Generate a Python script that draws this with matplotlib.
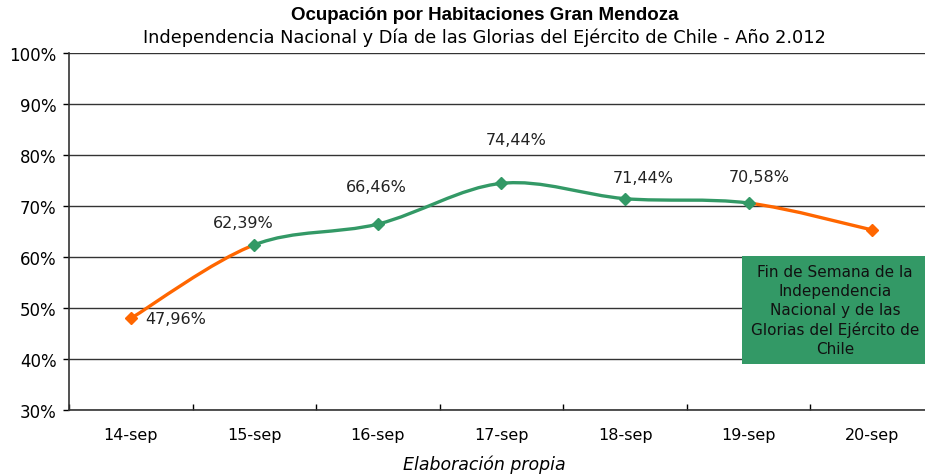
import matplotlib.pyplot as plt
from matplotlib.path import Path
from matplotlib.patches import PathPatch, Rectangle

# ── Data ───────────────────────────────────────────────────────────────────────
dias = ["14-sep", "15-sep", "16-sep", "17-sep", "18-sep", "19-sep", "20-sep"]
ocupacion = [47.96, 62.39, 66.46, 74.44, 71.44, 70.58, 65.3]
etiquetas = ["47,96%", "62,39%", "66,46%", "74,44%", "71,44%", "70,58%", None]
# pixel offsets of each data label from its point
offsets = [(14, 0), (-11, 22), (-2, 38), (15, 44), (18, 21), (11, 27), (0, 0)]

naranja = "#FF6600"
verde = "#339966"

fig = plt.figure(figsize=(9.25, 4.77), dpi=100)
ax = fig.add_axes([69 / 925, 1 - 411 / 477, 865 / 925, (411 - 54) / 477])

x = list(range(len(dias)))

# ── Smoothed line (Excel-style bezier) ─────────────────────────────────────────
def seg_path(i0, i1):
    pts = list(zip(x, ocupacion))
    verts = [pts[i0]]
    codes = [Path.MOVETO]
    for i in range(i0, i1):
        p0 = pts[max(i - 1, 0)]
        p1 = pts[i]
        p2 = pts[i + 1]
        p3 = pts[min(i + 2, len(pts) - 1)]
        c1 = (p1[0] + (p2[0] - p0[0]) / 6, p1[1] + (p2[1] - p0[1]) / 6)
        c2 = (p2[0] - (p3[0] - p1[0]) / 6, p2[1] - (p3[1] - p1[1]) / 6)
        verts += [c1, c2, p2]
        codes += [Path.CURVE4] * 3
    return Path(verts, codes)

for (a, b, col) in [(0, 1, naranja), (1, 5, verde), (5, 6, naranja)]:
    ax.add_patch(PathPatch(seg_path(a, b), facecolor="none", edgecolor=col,
                           lw=2.4, zorder=3, capstyle="round"))

cols = [naranja, verde, verde, verde, verde, verde, naranja]
for xi, yi, c in zip(x, ocupacion, cols):
    ax.plot(xi, yi, marker="D", ms=6, color=c, zorder=4)

for xi, yi, lab, off in zip(x, ocupacion, etiquetas, offsets):
    if lab is None:
        continue
    ha = "left" if off == (14, 0) else "center"
    ax.annotate(lab, (xi, yi), xytext=off, textcoords="offset pixels",
                ha=ha, va="center", fontsize=11.5, color="#222222", zorder=5)

# ── Axes ───────────────────────────────────────────────────────────────────────
ax.set_xlim(-0.5, 6.5)
ax.set_ylim(30, 100)
ax.set_yticks(range(30, 101, 10))
ax.set_yticklabels([f"{v}%" for v in range(30, 101, 10)], fontsize=12)
ax.set_xticks(x)
ax.set_xticklabels(dias, fontsize=11.5)
ax.set_xticks([i + 0.5 for i in range(-1, 6)], minor=True)
ax.tick_params(axis="x", which="major", length=0, pad=12)
ax.tick_params(axis="x", which="minor", length=4, direction="in", width=1)
ax.tick_params(axis="y", length=4, width=1, pad=5)
ax.yaxis.grid(True, color="#333333", lw=1)
ax.set_axisbelow(True)
for s in ["top", "right"]:
    ax.spines[s].set_visible(False)
for s in ["left", "bottom"]:
    ax.spines[s].set_color("#333333")
    ax.spines[s].set_linewidth(1.2)

# ── Annotation box ─────────────────────────────────────────────────────────────
ax.add_patch(Rectangle((4.95, 39.0), 1.53, 21.2, facecolor=verde,
                       edgecolor="none", zorder=6, clip_on=False))
ax.text(5.70, 49.6, "Fin de Semana de la\nIndependencia\nNacional y de las\n"
        "Glorias del Ejército de\nChile", ha="center", va="center",
        fontsize=11, color="#111111", linespacing=1.32, zorder=7)

# ── Titles ─────────────────────────────────────────────────────────────────────
fig.text(485 / 925, 1 - 16 / 477, "Ocupación por Habitaciones Gran Mendoza",
         ha="center", va="center", fontsize=13.5, fontweight="bold",
         family="Liberation Sans")
fig.text(484 / 925, 1 - 38 / 477,
         "Independencia Nacional y Día de las Glorias del Ejército de Chile - Año 2.012",
         ha="center", va="center", fontsize=12.8)
fig.text(484 / 925, 1 - 465 / 477, "Elaboración propia", ha="center",
         va="center", fontsize=12.5, style="italic")

fig.savefig("out.png", dpi=100)
